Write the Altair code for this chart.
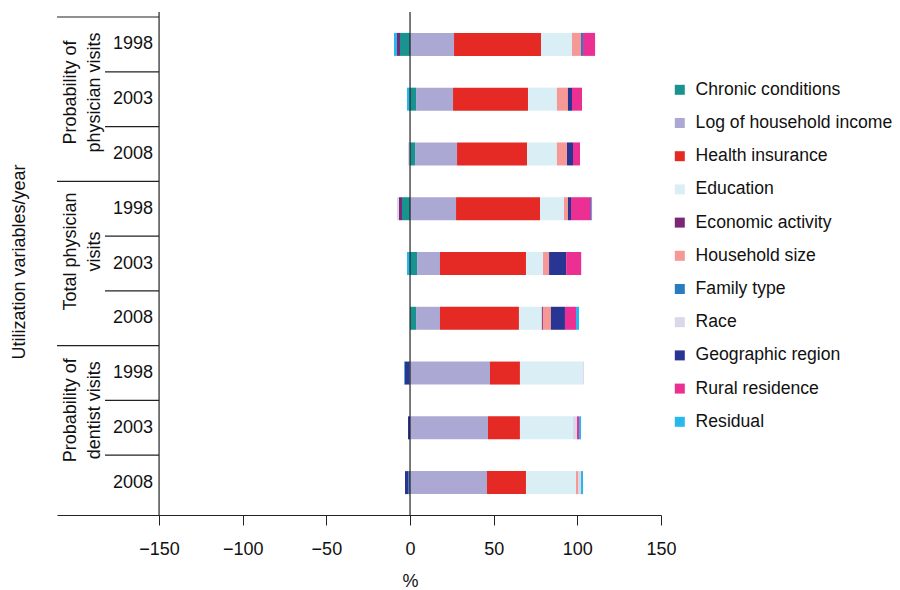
import altair as alt
import pandas as pd

# ---- data ----
group_lines = [["Probability of", "physician visits"], ["Total physician", "visits"], ["Probability of", "dentist visits"]]
years = ["1998", "2003", "2008"]

categories = ["Chronic conditions", "Log of household income", "Health insurance", "Education",
              "Economic activity", "Household size", "Family type", "Race",
              "Geographic region", "Rural residence", "Residual"]
colors = ["#18938f", "#aba9d3", "#e52a25", "#daeef5", "#7b2775", "#f59896",
          "#2a7cc0", "#d9d7ea", "#283593", "#ec2f92", "#27b9ec"]

# rows: phys-prob 1998/2003/2008, total phys 1998/2003/2008, dentist 1998/2003/2008
chronic    = [-6.0, 3.6, 3.0, -4.8, 4.2, 3.6, 0.0, 0.0, 0.0]
log_income = [26.3, 22.1, 25.1, 27.5, 13.7, 14.3, 47.8, 46.6, 46.0]
health_ins = [52.0, 44.8, 41.8, 50.2, 51.4, 47.2, 17.9, 19.1, 23.3]
education  = [18.5, 17.3, 17.9, 14.3, 10.2, 13.7, 37.6, 31.7, 29.9]
economic   = [-1.8, 0.0, 0.0, -1.8, 0.0, 0.6, 0.0, 0.0, 0.0]
household  = [5.4, 6.6, 6.0, 2.4, 3.6, 4.8, 0.0, 0.0, 1.2]
family     = [1.2, 0.0, 0.0, 0.0, 0.0, 0.0, -0.3, 0.0, -0.9]
race       = [0.0, 0.0, -1.2, -1.2, 0.0, 0.0, 0.6, 2.4, 1.8]
geographic = [0.0, 2.4, 3.6, 1.8, 10.2, 8.4, -3.0, -1.2, -2.1]
rural      = [7.2, 6.0, 4.2, 12.0, 9.0, 6.6, 0.0, 1.2, 0.0]
residual   = [-1.8, -1.8, 0.0, 0.6, -1.8, 1.8, -0.3, 1.2, 1.2]

series = [chronic, log_income, health_ins, education, economic, household,
          family, race, geographic, rural, residual]

x_ticks = [-150, -100, -50, 0, 50, 100, 150]

# ---- build stacked segments (positives right of 0, negatives left, in legend order) ----
rows = []
for r in range(9):
    pos, neg = 0.0, 0.0
    for ci, cat in enumerate(categories):
        v = series[ci][r]
        if v == 0:
            continue
        if v > 0:
            x0, x1 = pos, pos + v
            pos = x1
        else:
            x0, x1 = neg, neg + v
            neg = x1
        rows.append({"row": r, "category": cat, "x0": x0, "x1": x1, "value": v})
bars_df = pd.DataFrame(rows)

# ---- layout frames for the label column ----
year_df = pd.DataFrame({"row": list(range(9)), "year": years * 3})
group_df = pd.DataFrame({"pos": [0.88, 3.78, 6.68], "label": group_lines})

gsep_df = pd.DataFrame({"y": [-0.5, 2.5, 5.5], "x": [-211] * 3, "x2": [-150] * 3})
ysep_df = pd.DataFrame({"y": [0.5, 1.5, 3.5, 4.5, 6.5, 7.5], "x": [-182.3] * 6, "x2": [-150] * 6})
vline_df = pd.DataFrame({"x": [-150, 0]})

FONT = "Liberation Sans"
FS = 18

xscale = alt.Scale(domain=[-211, 150], nice=False, zero=False)
yscale = alt.Scale(domain=[-0.5, 8.5], reverse=True, nice=False, zero=False)

bars = alt.Chart(bars_df).mark_bar(orient="horizontal", size=23).encode(
    x=alt.X("x0:Q", scale=xscale,
            axis=alt.Axis(values=x_ticks, title="%", grid=False, tickSize=10,
                          labelFontSize=FS, titleFontSize=FS, labelFont=FONT, titleFont=FONT,
                          labelColor="#111", titleColor="#111", domainColor="#222", tickColor="#222",
                          labelPadding=15, titlePadding=14, titleFontWeight="normal",
                          titleX=353, titleAnchor="start", titleAlign="center",
                          labelFlush=False)),
    x2="x1:Q",
    y=alt.Y("row:Q", scale=yscale, axis=None),
    color=alt.Color("category:N", scale=alt.Scale(domain=categories, range=colors),
                    legend=alt.Legend(title=None, orient="none", legendX=614, legendY=69,
                                      symbolType="square", symbolSize=100, symbolStrokeWidth=0,
                                      labelFontSize=17.6, labelFont=FONT, labelColor="#111",
                                      rowPadding=14.2, labelOffset=7, labelLimit=400)),
)

vlines = alt.Chart(vline_df).mark_rule(color="#222", strokeWidth=1.2).encode(
    x=alt.X("x:Q", scale=xscale)
)

seps = alt.Chart(pd.concat([gsep_df, ysep_df])).mark_rule(color="#222", strokeWidth=1.2).encode(
    x=alt.X("x:Q", scale=xscale), x2="x2:Q", y=alt.Y("y:Q", scale=yscale)
)

year_text = alt.Chart(year_df).mark_text(
    align="right", baseline="middle", fontSize=FS, font=FONT, color="#111"
).encode(x=alt.value(96), y=alt.Y("row:Q", scale=yscale), text="year:N")

group_text = alt.Chart(group_df).mark_text(
    align="center", baseline="middle", fontSize=FS, font=FONT, color="#111",
    angle=270, lineHeight=24
).encode(x=alt.value(14), y=alt.Y("pos:Q", scale=yscale), text="label")

ytitle = alt.Chart(pd.DataFrame({"t": ["Utilization variables/year"]})).mark_text(
    align="center", baseline="middle", fontSize=FS, font=FONT, color="#111", angle=270
).encode(x=alt.value(-37), y=alt.value(250), text="t:N")

chart = alt.layer(bars, vlines, seps, year_text, group_text, ytitle).properties(
    width=604, height=503, autosize="none",
    padding={"left": 49, "top": 4, "right": 231, "bottom": 75},
).configure(font=FONT, view=alt.ViewConfig(stroke=None))

chart.save("out.html", embed_options={"renderer": "svg", "actions": False})
